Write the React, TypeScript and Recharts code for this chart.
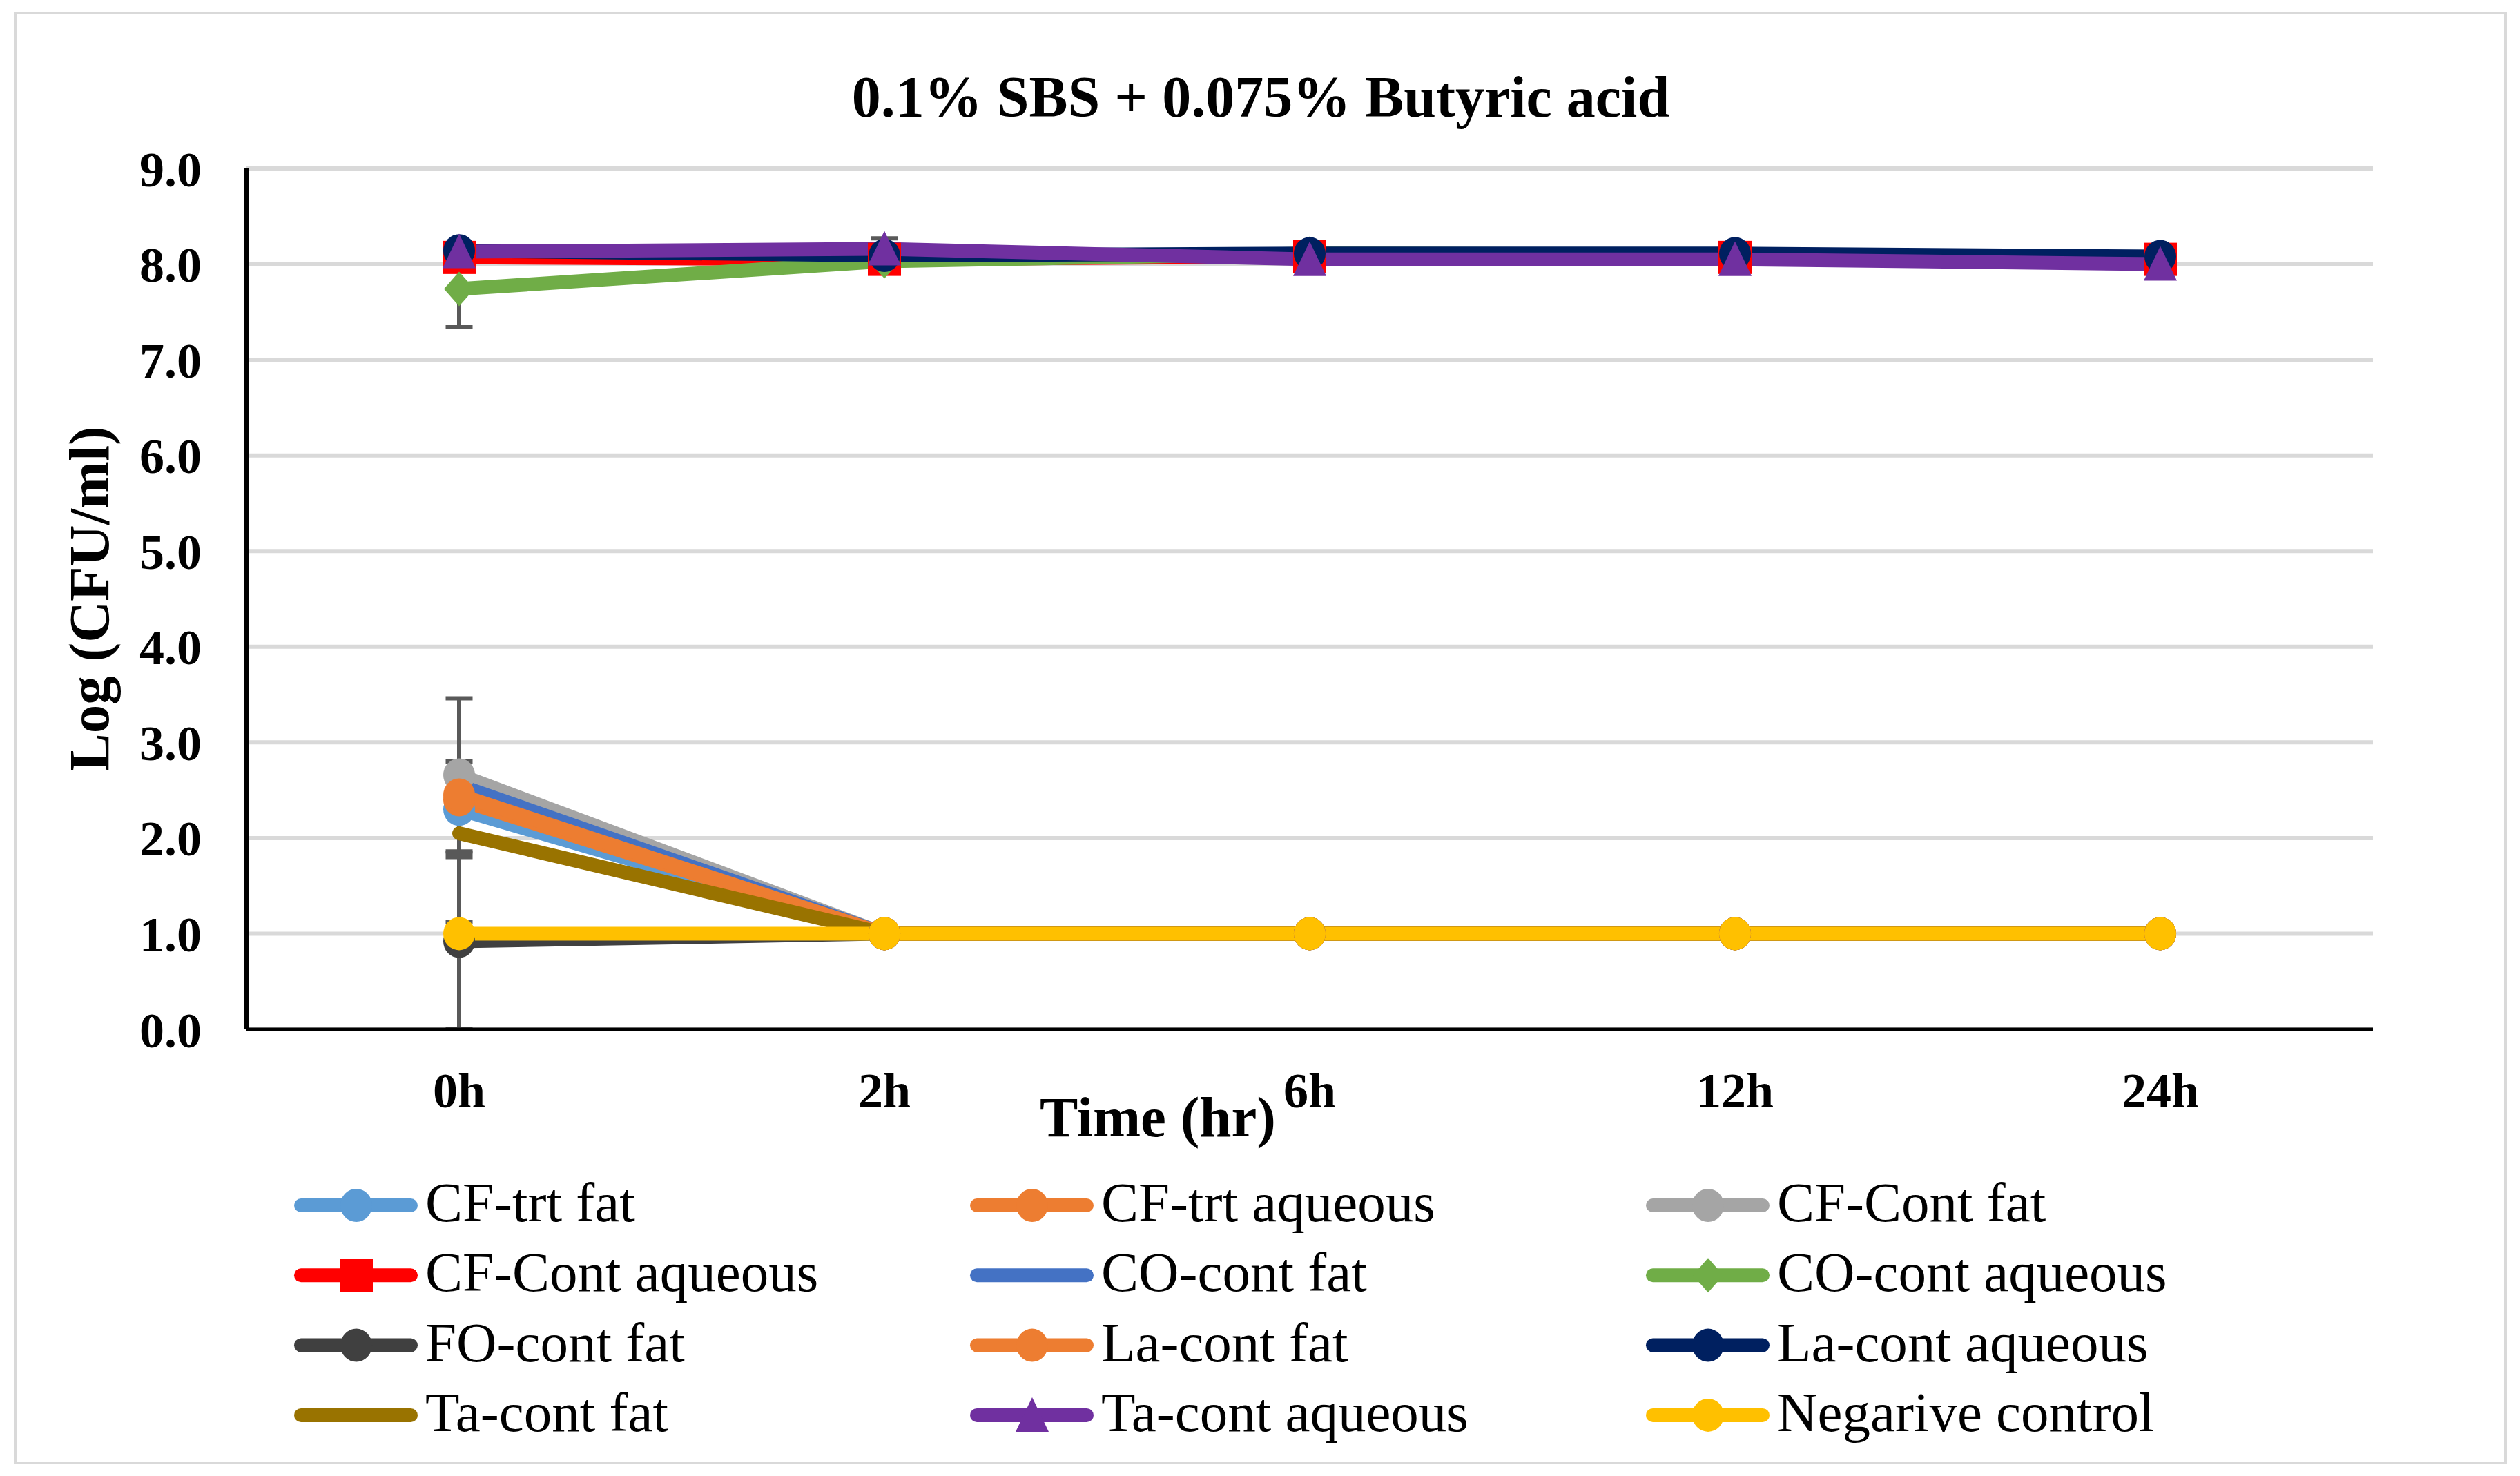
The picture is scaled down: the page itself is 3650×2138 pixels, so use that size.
import { LineChart, Line, XAxis, YAxis, CartesianGrid, ErrorBar, Legend } from 'recharts';

const FONT = '"Liberation Serif", "Times New Roman", serif';

// sampling times
const TIMES = ['0h', '2h', '6h', '12h', '24h'];
const Y_TICKS = [0, 1, 2, 3, 4, 5, 6, 7, 8, 9];

// Log(CFU/ml) per series
const cfTrtFat = [2.3, 1.0, 1.0, 1.0, 1.0];
const cfTrtAqueous = [2.4, 1.0, 1.0, 1.0, 1.0];
const cfContFat = [2.66, 1.0, 1.0, 1.0, 1.0];
const cfContAqueous = [8.07, 8.05, 8.08, 8.07, 8.05];
const coContFat = [2.55, 1.0, 1.0, 1.0, 1.0];
const coContAqueous = [7.74, 8.03, 8.11, 8.1, 8.05];
const foContFat = [0.92, 1.0, 1.0, 1.0, 1.0];
const laContFat = [2.45, 1.0, 1.0, 1.0, 1.0];
const laContAqueous = [8.14, 8.09, 8.11, 8.11, 8.08];
const taContFat = [2.05, 1.0, 1.0, 1.0, 1.0];
const taContAqueous = [8.13, 8.16, 8.05, 8.05, 8.0];
const negativeControl = [1.0, 1.0, 1.0, 1.0, 1.0];

// standard deviations (only the visible ones)
const cfTrtFatErr = [0.5, 0, 0, 0, 0];
const cfContFatErr = [0.8, 0, 0, 0, 0];
const coContAqueousErr = [0.4, 0, 0, 0, 0];
const foContFatErr = [0.92, 0, 0, 0, 0];
const laContAqueousErr = [0, 0.18, 0, 0, 0];
const negativeControlErr = [0.12, 0, 0, 0, 0];

type Shape = 'circle' | 'square' | 'diamond' | 'triangle' | null;

const SERIES: { key: string; name: string; color: string; marker: Shape; values: number[]; err?: number[] }[] = [
  { key: 'cfTrtFat', name: 'CF-trt fat', color: '#5B9BD5', marker: 'circle', values: cfTrtFat, err: cfTrtFatErr },
  { key: 'cfTrtAqueous', name: 'CF-trt aqueous', color: '#ED7D31', marker: 'circle', values: cfTrtAqueous },
  { key: 'cfContFat', name: 'CF-Cont fat', color: '#A5A5A5', marker: 'circle', values: cfContFat, err: cfContFatErr },
  { key: 'cfContAqueous', name: 'CF-Cont aqueous', color: '#FF0000', marker: 'square', values: cfContAqueous },
  { key: 'coContFat', name: 'CO-cont fat', color: '#4472C4', marker: null, values: coContFat },
  { key: 'coContAqueous', name: 'CO-cont aqueous', color: '#70AD47', marker: 'diamond', values: coContAqueous, err: coContAqueousErr },
  { key: 'foContFat', name: 'FO-cont fat', color: '#404040', marker: 'circle', values: foContFat, err: foContFatErr },
  { key: 'laContFat', name: 'La-cont fat', color: '#ED7D31', marker: 'circle', values: laContFat },
  { key: 'laContAqueous', name: 'La-cont aqueous', color: '#002060', marker: 'circle', values: laContAqueous, err: laContAqueousErr },
  { key: 'taContFat', name: 'Ta-cont fat', color: '#997300', marker: null, values: taContFat },
  { key: 'taContAqueous', name: 'Ta-cont aqueous', color: '#7030A0', marker: 'triangle', values: taContAqueous },
  { key: 'negativeControl', name: 'Negarive control', color: '#FFC000', marker: 'circle', values: negativeControl, err: negativeControlErr },
];

const data = TIMES.map((t, i) => {
  const row: any = { time: t };
  SERIES.forEach((s) => {
    row[s.key] = s.values[i];
    if (s.err) row[s.key + 'Err'] = s.err[i];
  });
  return row;
});

const Marker = ({ shape, cx, cy, color }: { shape: Shape; cx: number; cy: number; color: string }) => {
  if (shape === 'circle') return <ellipse cx={cx} cy={cy} rx={23} ry={24} fill={color} />;
  if (shape === 'square') return <rect x={cx - 24} y={cy - 24} width={48} height={48} fill={color} />;
  if (shape === 'diamond')
    return <polygon points={`${cx},${cy - 25} ${cx + 22},${cy} ${cx},${cy + 25} ${cx - 22},${cy}`} fill={color} />;
  if (shape === 'triangle')
    return <polygon points={`${cx},${cy - 26} ${cx + 24},${cy + 24} ${cx - 24},${cy + 24}`} fill={color} />;
  return null;
};

const renderLegend = () => (
  <svg width={3650} height={430} style={{ display: 'block' }}>
    {SERIES.map((s, i) => {
      const col = i % 3;
      const row = Math.floor(i / 3);
      const x0 = 426 + col * 979;
      const cy = 56 + row * 101.3;
      return (
        <g key={s.key}>
          <line x1={x0 + 10} y1={cy} x2={x0 + 169} y2={cy} stroke={s.color} strokeWidth={20} strokeLinecap="round" />
          <Marker shape={s.marker} cx={x0 + 90} cy={cy} color={s.color} />
          <text x={x0 + 190} y={cy + 23} fontFamily={FONT} fontSize={81} fill="#000">
            {s.name}
          </text>
        </g>
      );
    })}
  </svg>
);

export default function App() {
  return (
    <div style={{ position: 'absolute', left: 0, top: 0, width: 3650, height: 2138, background: '#fff' }}>
      <LineChart width={3650} height={2138} data={data} margin={{ top: 244, right: 213, bottom: 0, left: 0 }}>
        <CartesianGrid vertical={false} stroke="#D9D9D9" strokeWidth={6} />
        <XAxis
          dataKey="time"
          height={647}
          padding={{ left: 308, right: 308 }}
          tickLine={false}
          tickSize={0}
          tickMargin={62}
          axisLine={{ stroke: '#000', strokeWidth: 5 }}
          tick={{ fontFamily: FONT, fontSize: 72, fontWeight: 700, fill: '#000' }}
          label={{
            content: (p: any) => (
              <text
                x={p.viewBox.x + p.viewBox.width / 2 - 220}
                y={p.viewBox.y + 155}
                textAnchor="middle"
                fontFamily={FONT}
                fontSize={83}
                fontWeight={700}
                fill="#000"
              >
                Time (hr)
              </text>
            ),
          }}
        />
        <YAxis
          width={357}
          domain={[0, 9]}
          ticks={Y_TICKS}
          interval={0}
          tickFormatter={(v: number) => v.toFixed(1)}
          tickLine={false}
          tickSize={0}
          tickMargin={65}
          axisLine={{ stroke: '#000', strokeWidth: 6 }}
          tick={{ fontFamily: FONT, fontSize: 72, fontWeight: 700, fill: '#000' }}
          label={{
            content: (p: any) => (
              <text
                transform={`translate(157, ${p.viewBox.y + p.viewBox.height / 2}) rotate(-90)`}
                textAnchor="middle"
                fontFamily={FONT}
                fontSize={83}
                fontWeight={700}
                fill="#000"
              >
                Log (CFU/ml)
              </text>
            ),
          }}
        />
        <Legend
          layout="horizontal"
          verticalAlign="middle"
          align="center"
          content={renderLegend}
          wrapperStyle={{ left: 0, top: 1690, width: 3650, height: 430 }}
        />
        {SERIES.map((s) => (
          <Line
            key={s.key}
            dataKey={s.key}
            name={s.name}
            type="linear"
            stroke={s.color}
            strokeWidth={20}
            strokeLinecap="round"
            strokeLinejoin="round"
            isAnimationActive={false}
            activeDot={false}
            dot={
              s.marker
                ? (p: any) => <Marker key={`${s.key}-${p.index}`} shape={s.marker} cx={p.cx} cy={p.cy} color={s.color} />
                : false
            }
          >
            {s.err && (
              <ErrorBar dataKey={s.key + 'Err'} width={19.5} strokeWidth={6} stroke="#595959" direction="y" isAnimationActive={false} />
            )}
          </Line>
        ))}
      </LineChart>
      <svg width={3650} height={2138} style={{ position: 'absolute', left: 0, top: 0, pointerEvents: 'none' }}>
        <rect x={23} y={19} width={3606} height={2100} fill="none" stroke="#D9D9D9" strokeWidth={4} />
        <text x={1826} y={169} textAnchor="middle" fontFamily={FONT} fontSize={84} fontWeight={700} fill="#000">
          0.1% SBS + 0.075% Butyric acid
        </text>
      </svg>
    </div>
  );
}
